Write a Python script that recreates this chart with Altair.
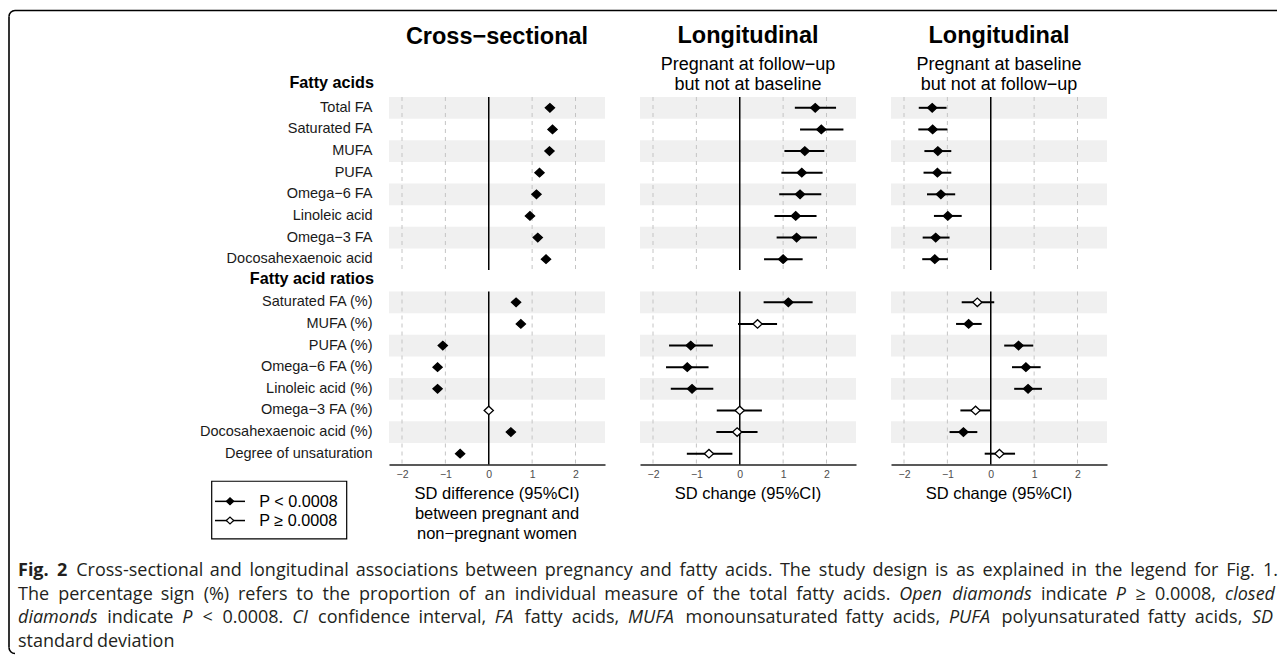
import altair as alt
import pandas as pd

# ---------------- data ----------------
labels_fa = ["Total FA", "Saturated FA", "MUFA", "PUFA", "Omega−6 FA",
             "Linoleic acid", "Omega−3 FA", "Docosahexaenoic acid"]
labels_ratio = ["Saturated FA (%)", "MUFA (%)", "PUFA (%)", "Omega−6 FA (%)",
                "Linoleic acid (%)", "Omega−3 FA (%)", "Docosahexaenoic acid (%)",
                "Degree of unsaturation"]
section_titles = ["Fatty acids", "Fatty acid ratios"]
sig_labels = ["P < 0.0008", "P ≥ 0.0008"]
x_ticks = [-2, -1, 0, 1, 2]
grid_values = [-2, -1, 1, 2]

# Cross-sectional
cs_est = [1.41, 1.47, 1.40, 1.17, 1.10, 0.95, 1.13, 1.32,
          0.63, 0.74, -1.06, -1.18, -1.18, 0.00, 0.51, -0.66]
cs_lo = [1.33, 1.39, 1.32, 1.10, 1.03, 0.88, 1.05, 1.24,
         0.56, 0.67, -1.13, -1.25, -1.25, -0.07, 0.44, -0.73]
cs_hi = [1.49, 1.55, 1.48, 1.24, 1.17, 1.02, 1.21, 1.40,
         0.70, 0.81, -0.99, -1.11, -1.11, 0.07, 0.58, -0.59]
cs_sig = [1, 1, 1, 1, 1, 1, 1, 1, 1, 1, 1, 1, 1, 0, 1, 1]

# Longitudinal: pregnant at follow-up but not at baseline
l1_est = [1.74, 1.88, 1.50, 1.43, 1.39, 1.29, 1.31, 1.00,
          1.12, 0.41, -1.13, -1.21, -1.10, 0.00, -0.06, -0.71]
l1_lo = [1.27, 1.39, 1.03, 0.96, 0.91, 0.80, 0.85, 0.56,
         0.55, -0.04, -1.63, -1.70, -1.59, -0.53, -0.54, -1.22]
l1_hi = [2.22, 2.39, 1.95, 1.91, 1.88, 1.77, 1.78, 1.45,
         1.68, 0.86, -0.62, -0.72, -0.61, 0.51, 0.41, -0.17]
l1_sig = [1, 1, 1, 1, 1, 1, 1, 1, 1, 0, 1, 1, 1, 0, 0, 0]

# Longitudinal: pregnant at baseline but not at follow-up
l2_est = [-1.35, -1.34, -1.22, -1.23, -1.15, -0.99, -1.27, -1.29,
          -0.31, -0.51, 0.64, 0.81, 0.86, -0.35, -0.63, 0.20]
l2_lo = [-1.66, -1.67, -1.53, -1.55, -1.47, -1.31, -1.57, -1.58,
         -0.67, -0.80, 0.31, 0.49, 0.54, -0.70, -0.95, -0.14]
l2_hi = [-1.02, -1.00, -0.91, -0.91, -0.82, -0.67, -0.95, -0.99,
         0.08, -0.21, 0.98, 1.15, 1.18, -0.01, -0.31, 0.56]
l2_sig = [1, 1, 1, 1, 1, 1, 1, 1, 0, 1, 1, 1, 1, 0, 1, 0]

panel_titles = ["Cross−sectional", "Longitudinal", "Longitudinal"]
panel_subtitles = [[], ["Pregnant at follow−up", "but not at baseline"],
                   ["Pregnant at baseline", "but not at follow−up"]]
x_titles = [["SD difference (95%CI)", "between pregnant and", "non−pregnant women"],
            ["SD change (95%CI)"], ["SD change (95%CI)"]]

# caption: lines of (text, weight, style) segments
caption_lines = [
    [("Fig. 2", "bold", "normal"),
     ("Cross-sectional and longitudinal associations between pregnancy and fatty acids. "
      "The study design is as explained in the legend for Fig. 1.", "normal", "normal")],
    [("The percentage sign (%) refers to the proportion of an individual measure of the "
      "total fatty acids.", "normal", "normal"),
     ("Open diamonds", "normal", "italic"), ("indicate", "normal", "normal"),
     ("P", "normal", "italic"), ("≥ 0.0008,", "normal", "normal"),
     ("closed", "normal", "italic")],
    [("diamonds", "normal", "italic"), ("indicate", "normal", "normal"),
     ("P", "normal", "italic"), ("< 0.0008.", "normal", "normal"),
     ("CI", "normal", "italic"), ("confidence interval,", "normal", "normal"),
     ("FA", "normal", "italic"), ("fatty acids,", "normal", "normal"),
     ("MUFA", "normal", "italic"), ("monounsaturated fatty acids,", "normal", "normal"),
     ("PUFA", "normal", "italic"), ("polyunsaturated fatty acids,", "normal", "normal"),
     ("SD", "normal", "italic")],
    [("standard deviation", "normal", "normal")],
]
caption_baselines = [575.7, 599.2, 622.7, 646.2]
caption_right = [1278, 1275, 1273, None]

# ---------------- layout constants ----------------
FONT = "Liberation Sans"
CAP_FONT = "Open Sans"
CAP_SIZE = 18
W, H = 216, 173
GAP_X, GAP_Y = 35, 21.5
X0, Y0 = 389, 96.45  # page position of top-left plot area
XDOM = [-2.3, 2.68]
DIAMOND = "M-1,0L0,-0.92L1,0L0,0.92Z"
fill_range = ["black", "white"]

# approximate Open Sans advance widths (units per 2048 em) for caption justification
OS_W = {' ': 532, 'a': 1139, 'b': 1255, 'c': 975, 'd': 1255, 'e': 1149, 'f': 694,
        'g': 1122, 'h': 1257, 'i': 518, 'j': 518, 'k': 1075, 'l': 518, 'm': 1905,
        'n': 1257, 'o': 1237, 'p': 1255, 'q': 1255, 'r': 836, 's': 977, 't': 723,
        'u': 1257, 'v': 1026, 'w': 1593, 'x': 1073, 'y': 1028, 'z': 975, '.': 545,
        ',': 500, '(': 594, ')': 594, '%': 1686, '-': 659, '<': 1171, '≥': 1171,
        'A': 1296, 'B': 1327, 'C': 1292, 'D': 1493, 'F': 1124, 'I': 621, 'M': 1849,
        'O': 1595, 'P': 1257, 'S': 1139, 'T': 1149, 'U': 1479}


def text_width(s, size, weight, style):
    w = sum(OS_W.get(ch, 1171 if ch.isdigit() else 1150) for ch in s) / 2048 * size
    if weight == "bold":
        w *= 1.08
    if style == "italic":
        w *= 0.96
    return w * 0.985


def lx(px, col):
    return px - (X0 + col * (W + GAP_X))


def ly(py, row):
    return py - (Y0 + row * (H + GAP_Y))


def text_layer(txt, x, y, size, weight="normal", align="left", style="normal",
               color="black", font=FONT, baseline="alphabetic"):
    return alt.Chart(pd.DataFrame({"t": [txt]})).mark_text(
        align=align, baseline=baseline, fontSize=size, fontWeight=weight,
        fontStyle=style, font=font, color=color
    ).encode(text="t:N", x=alt.value(x), y=alt.value(y))


def caption_layers():
    out = []
    space = OS_W[' '] / 2048 * CAP_SIZE
    for li, segs in enumerate(caption_lines):
        words = [(wd, w, s) for t, w, s in segs for wd in t.split(" ")]
        widths = [text_width(t, CAP_SIZE, w, s) for t, w, s in words]
        n = len(words)
        right = caption_right[li]
        gap = space
        if right is not None and n > 1:
            natural = sum(widths) + space * (n - 1)
            gap = max(3.0, space + (right - 18 - natural) / (n - 1))
        x = 18.0
        for k, (t, w, s) in enumerate(words):
            if k == n - 1 and right is not None and n > 1:
                out.append(text_layer(t, lx(right, 0), ly(caption_baselines[li], 1),
                                      CAP_SIZE, weight=w, style=s, font=CAP_FONT,
                                      color="#231f20", align="right"))
            else:
                out.append(text_layer(t, lx(x, 0), ly(caption_baselines[li], 1), CAP_SIZE,
                                      weight=w, style=s, font=CAP_FONT, color="#231f20"))
            x += widths[k] + gap
    return out


series = [(cs_est, cs_lo, cs_hi, cs_sig), (l1_est, l1_lo, l1_hi, l1_sig),
          (l2_est, l2_lo, l2_hi, l2_sig)]


def make_panel(col, row):
    est, lo, hi, sig = series[col]
    labels = labels_fa if row == 0 else labels_ratio
    off = 0 if row == 0 else 8
    df = pd.DataFrame({
        "label": labels,
        "est": est[off:off + 8],
        "lo": lo[off:off + 8],
        "hi": hi[off:off + 8],
        "sig": [sig_labels[0] if s else sig_labels[1] for s in sig[off:off + 8]],
        "shade": [1 if i % 2 == 0 else 0 for i in range(8)],
    })
    xsc = alt.Scale(domain=XDOM, nice=False, zero=False)
    if row == 1:
        xax = alt.Axis(values=x_ticks, format="d", domain=True, domainColor="#222222",
                       domainWidth=1.5, ticks=False, labelPadding=4.5, labelFontSize=10.5,
                       labelFont=FONT, labelColor="#4d4d4d", grid=False, title=None)
    else:
        xax = None
    if col == 0:
        yax = alt.Axis(domain=False, ticks=False, labelPadding=17, labelFontSize=14.5,
                       labelFont=FONT, labelColor="#1a1a1a", labelLimit=400, grid=False,
                       title=None)
    else:
        yax = None
    ysc = alt.Scale(domain=labels, paddingInner=0, paddingOuter=0)

    def xenc(f):
        return alt.X(f, type="quantitative", scale=xsc, axis=xax)

    yenc = alt.Y("label:N", sort=labels, scale=ysc, axis=yax)

    shade = alt.Chart(df).transform_filter("datum.shade == 1").mark_rect(
        color="#f0f0f0").encode(y=yenc, x=alt.value(0), x2=alt.value(W))
    grid = alt.Chart(pd.DataFrame({"v": grid_values})).mark_rule(
        color="#c4c4c4", strokeDash=[4, 4], strokeWidth=1).encode(x=xenc("v"))
    zero = alt.Chart(pd.DataFrame({"v": [0]})).mark_rule(
        color="black", strokeWidth=1.5).encode(x=xenc("v"))
    ci = alt.Chart(df).mark_rule(color="black", strokeWidth=2).encode(
        x=xenc("lo"), x2="hi:Q", y=yenc)
    pts = alt.Chart(df).mark_point(shape=DIAMOND, size=85, filled=True, stroke="black",
                                   strokeWidth=1.3, opacity=1).encode(
        x=xenc("est"), y=yenc,
        fill=alt.Fill("sig:N", scale=alt.Scale(domain=sig_labels, range=fill_range),
                      legend=None))
    layers = [shade, grid, zero, ci, pts]

    cx = W / 2
    if row == 0:
        layers.append(text_layer(panel_titles[col], cx, ly(43.5 if col == 0 else 42.5, 0),
                                 23.5, weight="bold", align="center"))
        for k, s in enumerate(panel_subtitles[col]):
            layers.append(text_layer(s, cx, ly(69.8 + 20 * k, 0), 18, align="center"))
        if col == 0:
            layers.append(text_layer(section_titles[0], lx(374, 0), ly(87.8, 0), 16.2,
                                     weight="bold", align="right"))
            # figure frame (top and left border with rounded corners)
            frame = pd.DataFrame({"a": [0]})
            layers.append(alt.Chart(frame).mark_rule(color="black", strokeWidth=1.6).encode(
                x=alt.value(lx(15, 0)), x2=alt.value(lx(1277, 0)), y=alt.value(ly(10, 0))))
            layers.append(alt.Chart(frame).mark_rule(color="black", strokeWidth=1.6).encode(
                x=alt.value(lx(9, 0)), y=alt.value(ly(16, 0)), y2=alt.value(ly(647, 0))))
            layers.append(alt.Chart(frame).mark_arc(
                radius=6.8, radius2=5.2, theta=4.712389, theta2=6.283185, color="black").encode(
                x=alt.value(lx(15, 0)), y=alt.value(ly(16, 0))))
            layers.append(alt.Chart(frame).mark_arc(
                radius=6.8, radius2=5.2, theta=3.141593, theta2=4.712389, color="black").encode(
                x=alt.value(lx(15, 0)), y=alt.value(ly(647, 0))))
    else:
        for k, s in enumerate(x_titles[col]):
            layers.append(text_layer(s, cx, ly(498.5 + 20 * k, 1), 16.5, align="center"))
        if col == 0:
            layers.append(text_layer(section_titles[1], lx(374, 0), ly(283.0, 1), 16.2,
                                     weight="bold", align="right"))
            # manual legend
            box = pd.DataFrame({"a": [0]})
            layers.append(alt.Chart(box).mark_rect(fillOpacity=0, stroke="black",
                                                   strokeWidth=1.2).encode(
                x=alt.value(lx(211.7, 0)), x2=alt.value(lx(346.7, 0)),
                y=alt.value(ly(480.7, 1)), y2=alt.value(ly(538.3, 1))))
            sym_y = [500.8, 520.0]
            lab_y = [506.5, 525.5]
            for k, lab in enumerate(sig_labels):
                layers.append(alt.Chart(box).mark_rule(color="black", strokeWidth=1.5).encode(
                    x=alt.value(lx(215, 0)), x2=alt.value(lx(245, 0)),
                    y=alt.value(ly(sym_y[k], 1))))
                layers.append(alt.Chart(box).mark_point(
                    shape=DIAMOND, size=55, filled=True, fill=fill_range[k], stroke="black",
                    strokeWidth=1.2, opacity=1).encode(
                    x=alt.value(lx(230, 0)), y=alt.value(ly(sym_y[k], 1))))
                layers.append(text_layer(lab, lx(259.3, 0), ly(lab_y[k], 1), 16.2))
            layers.extend(caption_layers())
    return alt.layer(*layers).properties(width=W, height=H)


panels = [make_panel(c, r) for r in range(2) for c in range(3)]

chart = alt.concat(
    *panels, columns=3, spacing={"row": GAP_Y, "column": GAP_X}, bounds="flush"
).properties(
    padding={"left": 0, "top": 1, "right": 0, "bottom": 0}, background="white"
).configure_view(stroke=None)

chart.save("out.html", embed_options={"renderer": "svg", "actions": False})
